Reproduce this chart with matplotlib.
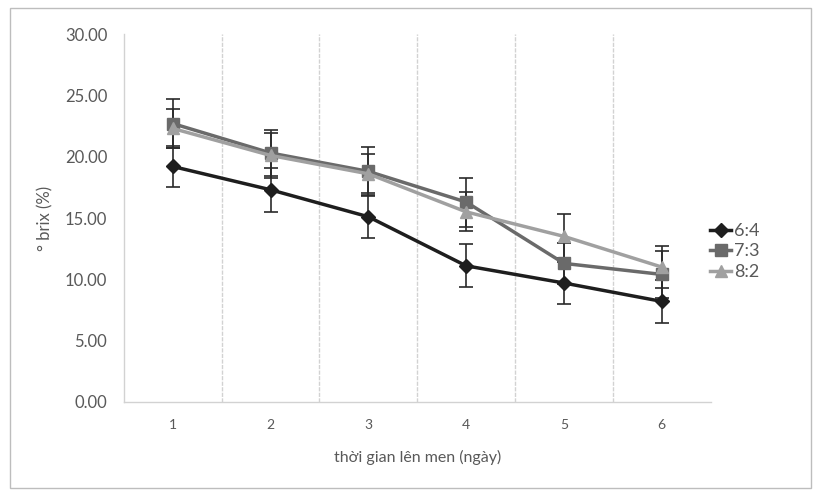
import numpy as np
import matplotlib.pyplot as plt
from matplotlib.patches import Rectangle
from matplotlib.lines import Line2D

# dữ liệu
days = [1, 2, 3, 4, 5, 6]
brix_64 = [19.2, 17.3, 15.1, 11.1, 9.7, 8.2]
brix_73 = [22.7, 20.3, 18.8, 16.3, 11.3, 10.4]
brix_82 = [22.3, 20.1, 18.6, 15.5, 13.5, 11.0]
err_64 = [1.7, 1.8, 1.75, 1.75, 1.7, 1.75]
err_73 = [2.0, 1.9, 2.0, 2.0, 1.7, 1.9]
err_82 = [1.6, 1.8, 1.6, 1.6, 1.8, 1.7]
labels = ['6:4', '7:3', '8:2']

plt.rcParams['font.family'] = ['Lato', 'DejaVu Sans']
text_col = '#595959'

fig = plt.figure(figsize=(8.15, 4.9), dpi=100)
ax = fig.add_axes([0.152, 0.1796, 0.72, 0.751])

series = [
    (brix_64, err_64, '#1e1e1e', 'D', 7),
    (brix_73, err_73, '#6a6a6a', 's', 9),
    (brix_82, err_82, '#a0a0a0', '^', 9),
]
handles = []
for (vals, errs, col, mk, ms), lab in zip(series, labels):
    ax.errorbar(days, vals, yerr=errs, color=col, marker=mk, markersize=ms,
                linewidth=2.5, ecolor='#2a2a2a', elinewidth=1.2, capsize=5,
                capthick=1.2)
    handles.append(Line2D([], [], color=col, marker=mk, markersize=ms,
                          linewidth=2.5, label=lab))

ax.set_xlim(0.5, 6.5)
ax.set_ylim(0, 30)
ax.set_yticks(np.arange(0, 31, 5))
ax.set_yticklabels([f'{v:.2f}' for v in np.arange(0, 31, 5)])
ax.set_xticks(days)

# đường lưới dọc giữa các ngày
for b in np.arange(1.5, 6.5, 1):
    ax.axvline(b, color='#d2d2d2', linewidth=1.0, linestyle=(0, (3, 1)), zorder=0)

for s in ['top', 'right']:
    ax.spines[s].set_visible(False)
for s in ['left', 'bottom']:
    ax.spines[s].set_color('#d2d2d2')
    ax.spines[s].set_linestyle((0, (3, 1)))
    ax.spines[s].set_linewidth(1.0)

ax.tick_params(axis='both', length=0, colors=text_col)
ax.tick_params(axis='y', labelsize=12, pad=12)
ax.tick_params(axis='x', labelsize=10, pad=12)

ax.set_xlabel('thời gian lên men (ngày)', fontsize=11.5, color=text_col, labelpad=14)
ax.set_ylabel('° brix (%)', fontsize=12, color=text_col, labelpad=8)

leg = ax.legend(handles=handles, loc='center left', bbox_to_anchor=(0.862, 0.487),
                bbox_transform=fig.transFigure, frameon=False, fontsize=13,
                handlelength=1.2, handletextpad=0.15, labelspacing=0.25,
                borderaxespad=0)
for t in leg.get_texts():
    t.set_color(text_col)

# khung viền ngoài
fig.patches.append(Rectangle((0.012, 0.004), 0.983, 0.98, transform=fig.transFigure,
                             fill=False, edgecolor='#bdbdbd', linewidth=1.0))

fig.savefig('out.png', dpi=100)
